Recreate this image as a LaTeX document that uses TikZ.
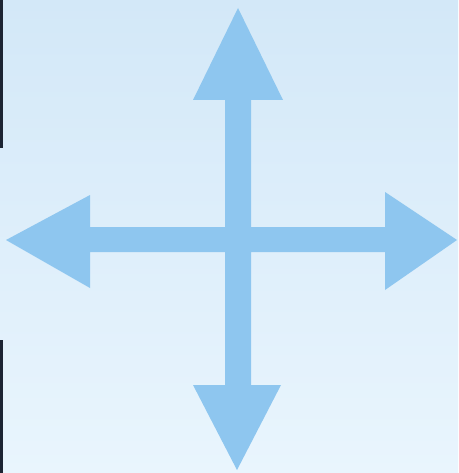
\documentclass[tikz,border=0pt]{standalone}
\begin{document}
\begin{tikzpicture}[x=1pt,y=-1pt]
\definecolor{bgtop}{HTML}{D3E8F8}
\definecolor{bgbot}{HTML}{E9F5FD}
\definecolor{arrowblue}{HTML}{8EC6EF}
\definecolor{edgedark}{HTML}{1C2433}
\tikzset{crossarrow/.style={fill=arrowblue,draw=none},
  edgeline/.style={draw=edgedark,line width=3.5pt}}
\useasboundingbox (0,0) rectangle (458,473);
\shade[top color=bgtop,bottom color=bgbot] (0,0) rectangle (458,473);
\draw[edgeline] (1.5,0) -- (1.5,148);
\draw[edgeline] (1.5,340) -- (1.5,473);
\fill[crossarrow] (238,8) -- (283,100) -- (251,100) -- (251,227) -- (385,227) -- (385,192)
  -- (457,240) -- (385,290) -- (385,252) -- (251,252) -- (251,385) -- (281,385)
  -- (237,470) -- (193,385) -- (225,385) -- (225,252) -- (90,252) -- (90,288)
  -- (6,240) -- (90,195) -- (90,227) -- (225,227) -- (225,100) -- (193,100) -- cycle;
\end{tikzpicture}
\end{document}
